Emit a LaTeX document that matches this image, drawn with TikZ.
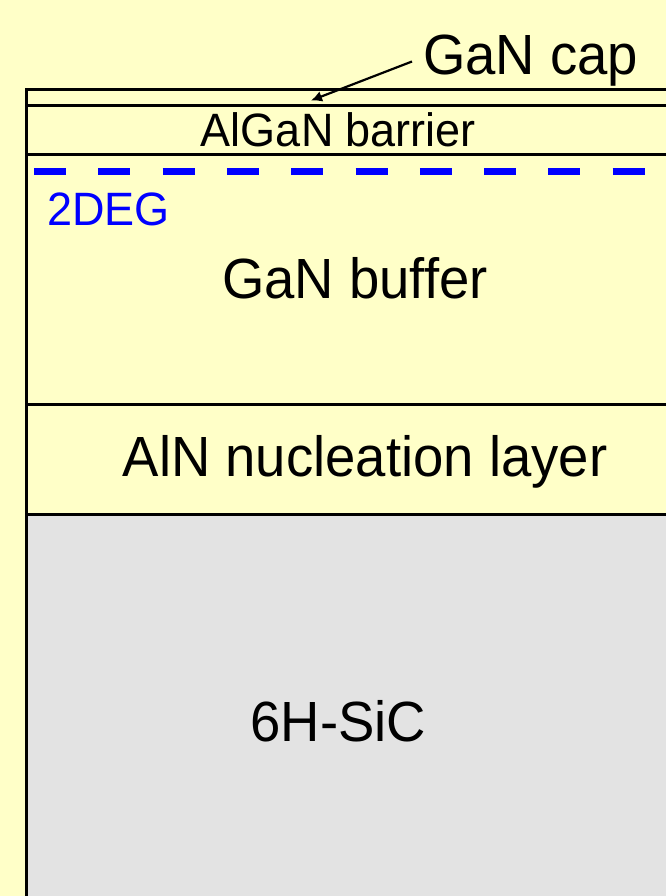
\documentclass[tikz,border=0pt]{standalone}
\usepackage{fontspec}
\setmainfont{Liberation Sans}
\usetikzlibrary{arrows.meta}
\definecolor{bgyellow}{RGB}{255,255,200}
\definecolor{subgray}{RGB}{227,227,227}
\definecolor{degblue}{RGB}{0,0,255}
\tikzset{
  layerline/.style={line width=3pt},
  bigtext/.style={font=\fontsize{54.5}{60}\selectfont, inner sep=0pt, yscale=1.04, transform shape},
  midtext/.style={font=\fontsize{45}{50}\selectfont, inner sep=0pt, yscale=1.04, transform shape},
}
\begin{document}
\begin{tikzpicture}[x=1pt,y=-1pt]
\fill[bgyellow] (0,0) rectangle (666,896);
\useasboundingbox (0,0) rectangle (666,896);
% substrate
\fill[subgray] (26.5,514) rectangle (666,896);
% layer boundaries
\draw[layerline] (26.5,90) -- (666,90);
\draw[layerline] (26.5,105.5) -- (666,105.5);
\draw[layerline] (26.5,154.5) -- (666,154.5);
\draw[layerline] (26.5,404) -- (666,404);
\draw[layerline] (26.5,514) -- (666,514);
\draw[layerline] (26.5,88.5) -- (26.5,896);
% 2DEG
\coordinate (d1) at (34,171.5);
\coordinate (d2) at (650,171.5);
\draw[degblue, line width=6.5pt, dash pattern=on 32pt off 32.3pt] (d1) -- (d2);
\node[midtext, text=degblue, anchor=west] (deg) at (47,209) {2DEG};
% labels
\node[midtext] (barrier) at (338.5,129.5) {AlGaN barrier};
\node[bigtext] (buffer) at (355,278) {GaN buffer};
\node[bigtext] (aln) at (365,462) {AlN nucleation layer};
\node[bigtext] (sic) at (338.5,721) {6H-SiC};
\node[bigtext, anchor=base west] (cap) at (423,74.5) {GaN cap};
\coordinate (captip) at (311,100.5);
\draw[line width=2.2pt, -{Latex[length=11pt,width=11pt]}] (412,61.5) -- (captip);
\end{tikzpicture}
\end{document}
